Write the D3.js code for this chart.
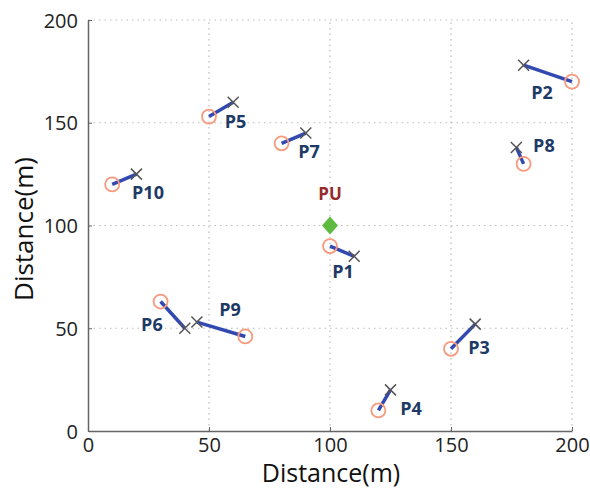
<!DOCTYPE html>
<html><head><meta charset="utf-8">
<script src="https://cdn.jsdelivr.net/npm/d3@7"></script>
<style>body{margin:0;background:#fff}</style>
</head><body><svg id="c" width="590" height="491"></svg>
<script>
const names = ["P1","P2","P3","P4","P5","P6","P7","P8","P9","P10"];
const startX = [100,200,150,120,50,30,80,180,65,10];
const startY = [90,170,40,10,153,63,140,130,46,120];
const endX   = [110,180,160,125,60,40,90,177,45,20];
const endY   = [85,178,52,20,160,50,145,138,53,125];
const labelX = [105.4,187.6,161.6,133.5,61,26.4,91.3,188.4,58.7,24.8];
const labelY = [77.4,164.5,40.4,10.7,150.4,51.6,135.8,138.7,58.9,115.8];
const puPos = [100,100];
const puLabel = [100,115.3];
const ticks = [0,50,100,150,200];

const svg = d3.select("#c");
const x = d3.scaleLinear().domain([0,200]).range([88,572]);
const y = d3.scaleLinear().domain([0,200]).range([431,20]);

// grid
const g = svg.append("g");
ticks.filter(t=>t>0).forEach(t=>{
  g.append("line").attr("x1",x(t)).attr("x2",x(t)).attr("y1",y(0)).attr("y2",y(200))
    .attr("stroke","#bbb").attr("stroke-width",1.2).attr("stroke-dasharray","1.5,4");
  g.append("line").attr("x1",x(0)).attr("x2",x(200)).attr("y1",y(t)).attr("y2",y(t))
    .attr("stroke","#bbb").attr("stroke-width",1.2).attr("stroke-dasharray","1.5,4");
});

// axes
const xa = svg.append("g").attr("transform",`translate(0,${y(0)})`)
  .call(d3.axisBottom(x).tickValues(ticks).tickSizeInner(-4).tickSizeOuter(0).tickPadding(5));
const ya = svg.append("g").attr("transform",`translate(${x(0)},0)`)
  .call(d3.axisLeft(y).tickValues(ticks).tickSizeInner(-4).tickSizeOuter(0).tickPadding(10));
[xa,ya].forEach(a=>{
  a.select(".domain").attr("stroke","#666").attr("stroke-width",1.5);
  a.selectAll(".tick line").attr("stroke","#666");
  a.selectAll(".tick text").attr("font-family","Open Sans").attr("font-size",20).attr("fill","#222");
});
xa.selectAll(".tick text").attr("dy","0.78em");
ya.selectAll(".tick text").attr("dy","0.36em");

svg.append("text").attr("x",331).attr("y",482).attr("text-anchor","middle")
  .attr("font-family","Open Sans").attr("font-size",25).attr("fill","#111").text("Distance(m)");
svg.append("text").attr("transform","translate(33,229) rotate(-90)").attr("text-anchor","middle")
  .attr("font-family","Open Sans").attr("font-size",26).attr("fill","#111").text("Distance(m)");

const idx = d3.range(names.length);
// paths
svg.append("g").selectAll("line").data(idx).join("line")
  .attr("x1",i=>x(startX[i])).attr("y1",i=>y(startY[i]))
  .attr("x2",i=>x(endX[i])).attr("y2",i=>y(endY[i]))
  .attr("stroke","#3249b0").attr("stroke-width",3.5);
// start circles
svg.append("g").selectAll("circle").data(idx).join("circle")
  .attr("cx",i=>x(startX[i])).attr("cy",i=>y(startY[i])).attr("r",7)
  .attr("fill","none").attr("stroke","#f79a7e").attr("stroke-width",1.8);
// end crosses
const cs = 5.5;
svg.append("g").selectAll("path").data(idx).join("path")
  .attr("d",i=>{const cx=x(endX[i]),cy=y(endY[i]);
    return `M${cx-cs},${cy-cs}L${cx+cs},${cy+cs}M${cx-cs},${cy+cs}L${cx+cs},${cy-cs}`;})
  .attr("stroke","#555").attr("stroke-width",1.5).attr("fill","none");
// labels
svg.append("g").selectAll("text").data(idx).join("text")
  .attr("x",i=>x(labelX[i])).attr("y",i=>y(labelY[i])).attr("dy","0.35em")
  .attr("text-anchor","middle").attr("font-family","Open Sans").attr("font-weight","bold")
  .attr("font-size",18).attr("fill","#1d3a66").text(i=>names[i]);
// PU
const px=x(puPos[0]), py=y(puPos[1]);
svg.append("path").attr("d",`M${px},${py-9}L${px+8},${py}L${px},${py+9}L${px-8},${py}Z`)
  .attr("fill","#5dbb3f");
svg.append("text").attr("x",x(puLabel[0])).attr("y",y(puLabel[1])).attr("dy","0.35em")
  .attr("text-anchor","middle").attr("font-family","Open Sans").attr("font-weight","bold")
  .attr("font-size",17).attr("fill","#962b2b").text("PU");
</script></body></html>
